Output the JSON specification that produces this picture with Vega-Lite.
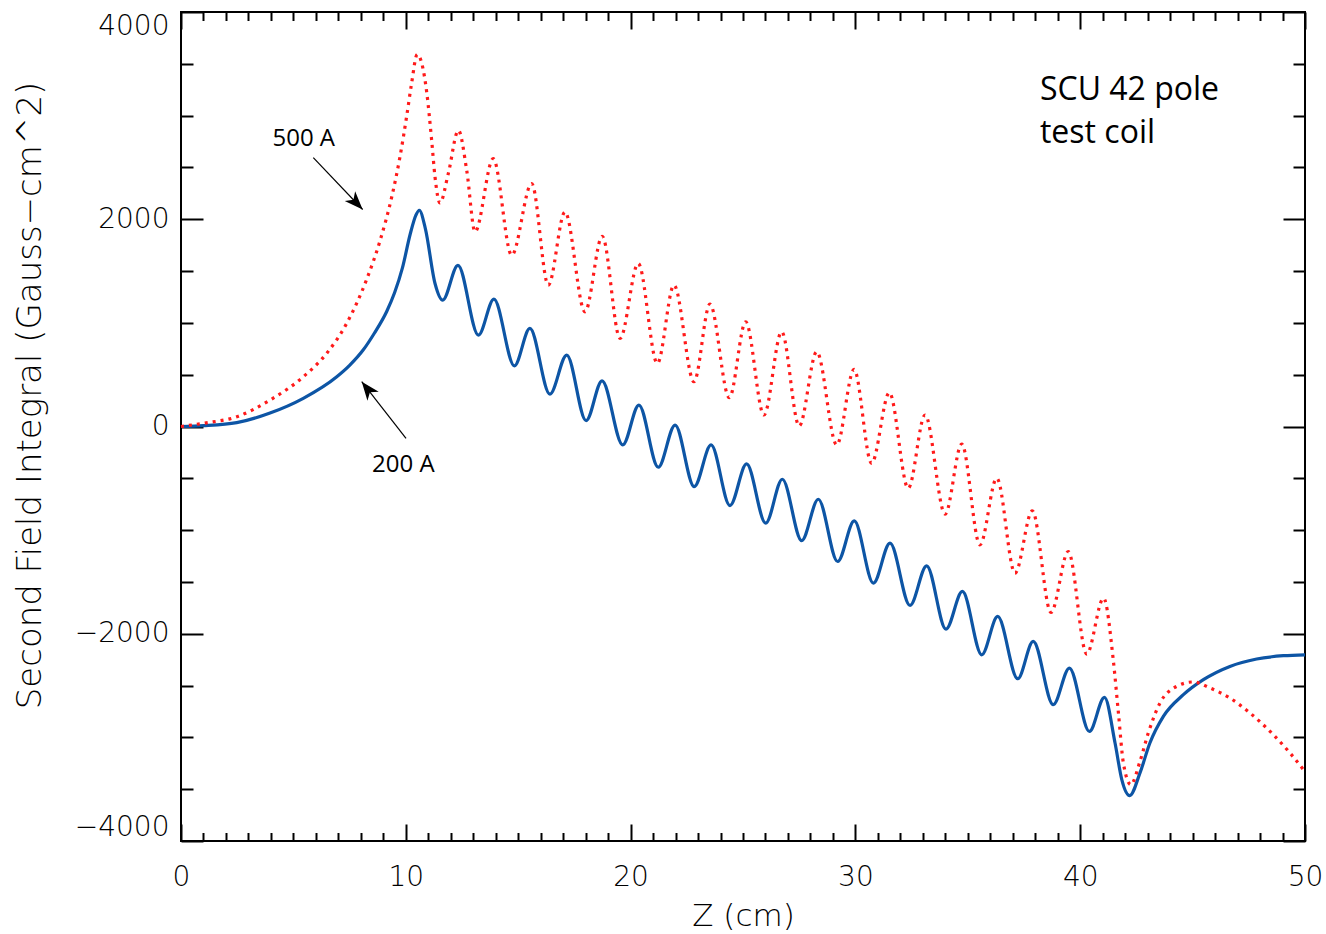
{
  "$schema": "https://vega.github.io/schema/vega-lite/v6.json",
  "width": 1124,
  "height": 829,
  "autosize": {"type": "none"},
  "padding": {"left": 181, "top": 12, "right": 21, "bottom": 93},
  "background": "white",
  "config": {
    "view": {"stroke": "black", "strokeWidth": 2},
    "axis": {
      "grid": false,
      "domain": false,
      "tickColor": "black",
      "tickWidth": 2,
      "labelColor": "black",
      "titleColor": "black",
      "labelFont": "DejaVu Sans",
      "titleFont": "DejaVu Sans",
      "labelFontWeight": 200,
      "titleFontWeight": 200
    }
  },
  "datasets": {
    "b200": [
      {"z": 0, "v": 0}, {"z": 1.0, "v": 8}, {"z": 2.48, "v": 37}, {"z": 3.96, "v": 130},
      {"z": 5.44, "v": 272}, {"z": 6.93, "v": 480}, {"z": 7.5, "v": 590}, {"z": 8.11, "v": 740}, {"z": 8.6, "v": 900},
      {"z": 9.15, "v": 1110}, {"z": 9.5, "v": 1290}, {"z": 9.85, "v": 1530}, {"z": 10.2, "v": 1860},
      {"z": 10.45, "v": 2040}, {"z": 10.6, "v": 2087}, {"z": 10.87, "v": 1910},
      {"z": 11.3, "v": 1380}, {"z": 11.64, "v": 1219}, {"z": 12.32, "v": 1555}, {"z": 13.23, "v": 882}, {"z": 13.92, "v": 1229},
      {"z": 14.83, "v": 586}, {"z": 15.52, "v": 947}, {"z": 16.41, "v": 313}, {"z": 17.16, "v": 689},
      {"z": 18.02, "v": 56}, {"z": 18.73, "v": 441}, {"z": 19.65, "v": -178}, {"z": 20.37, "v": 207},
      {"z": 21.23, "v": -393}, {"z": 21.98, "v": 14}, {"z": 22.83, "v": -580}, {"z": 23.58, "v": -178},
      {"z": 24.42, "v": -763}, {"z": 25.16, "v": -361}, {"z": 26.01, "v": -933}, {"z": 26.75, "v": -509},
      {"z": 27.61, "v": -1101}, {"z": 28.35, "v": -702}, {"z": 29.21, "v": -1303}, {"z": 29.95, "v": -911},
      {"z": 30.8, "v": -1511}, {"z": 31.54, "v": -1126}, {"z": 32.43, "v": -1727}, {"z": 33.17, "v": -1345},
      {"z": 34.03, "v": -1955}, {"z": 34.76, "v": -1592}, {"z": 35.62, "v": -2203}, {"z": 36.33, "v": -1833},
      {"z": 37.22, "v": -2434}, {"z": 37.91, "v": -2074}, {"z": 38.8, "v": -2684}, {"z": 39.52, "v": -2331},
      {"z": 40.41, "v": -2942}, {"z": 41.08, "v": -2614}, {"z": 41.55, "v": -3054}, {"z": 41.85, "v": -3407},
      {"z": 42.2, "v": -3562}, {"z": 42.66, "v": -3343}, {"z": 43.1, "v": -3054}, {"z": 43.7, "v": -2797},
      {"z": 44.59, "v": -2588}, {"z": 45.48, "v": -2443}, {"z": 46.66, "v": -2315}, {"z": 47.85, "v": -2244},
      {"z": 49.04, "v": -2212}, {"z": 50.0, "v": -2203}
    ],
    "r500": [
      {"z": 0, "v": 0}, {"z": 0.99, "v": 31}, {"z": 2.48, "v": 94}, {"z": 3.96, "v": 255},
      {"z": 5.44, "v": 480}, {"z": 6.48, "v": 706}, {"z": 7.37, "v": 995}, {"z": 8.26, "v": 1420},
      {"z": 8.85, "v": 1790}, {"z": 9.38, "v": 2220}, {"z": 9.74, "v": 2601}, {"z": 10.05, "v": 3010}, {"z": 10.25, "v": 3300},
      {"z": 10.51, "v": 3590}, {"z": 10.93, "v": 3227}, {"z": 11.15, "v": 2762}, {"z": 11.3, "v": 2408},
      {"z": 11.52, "v": 2157}, {"z": 11.89, "v": 2441}, {"z": 12.34, "v": 2858}, {"z": 12.71, "v": 2472},
      {"z": 13.08, "v": 1880}, {"z": 13.89, "v": 2585}, {"z": 14.71, "v": 1653},
      {"z": 15.6, "v": 2344}, {"z": 16.34, "v": 1364}, {"z": 17.08, "v": 2070}, {"z": 17.97, "v": 1107},
      {"z": 18.74, "v": 1836}, {"z": 19.53, "v": 850}, {"z": 20.34, "v": 1573}, {"z": 21.19, "v": 609},
      {"z": 21.93, "v": 1364}, {"z": 22.82, "v": 432}, {"z": 23.53, "v": 1181}, {"z": 24.39, "v": 278},
      {"z": 25.12, "v": 1010}, {"z": 25.93, "v": 111}, {"z": 26.72, "v": 914}, {"z": 27.5, "v": 5},
      {"z": 28.28, "v": 721}, {"z": 29.17, "v": -178}, {"z": 29.94, "v": 551}, {"z": 30.72, "v": -355},
      {"z": 31.51, "v": 326}, {"z": 32.35, "v": -596}, {"z": 33.1, "v": 111}, {"z": 33.99, "v": -846},
      {"z": 34.73, "v": -169}, {"z": 35.54, "v": -1142}, {"z": 36.29, "v": -499}, {"z": 37.1, "v": -1415},
      {"z": 37.87, "v": -814}, {"z": 38.7, "v": -1795}, {"z": 39.47, "v": -1207}, {"z": 40.29, "v": -2196},
      {"z": 41.04, "v": -1656}, {"z": 41.47, "v": -2251}, {"z": 41.7, "v": -2764}, {"z": 41.92, "v": -3246},
      {"z": 42.25, "v": -3456}, {"z": 42.66, "v": -3231}, {"z": 43.03, "v": -2957}, {"z": 43.55, "v": -2668},
      {"z": 44.29, "v": -2508}, {"z": 45.03, "v": -2465}, {"z": 45.77, "v": -2523}, {"z": 46.66, "v": -2620},
      {"z": 47.55, "v": -2764}, {"z": 48.59, "v": -2974}, {"z": 49.33, "v": -3150}, {"z": 50.0, "v": -3330}
    ],
    "arrows": [
      {"x": 5.885, "y": 2595, "x2": 8.08, "y2": 2094},
      {"x": 10.01, "y": -114, "x2": 8.04, "y2": 432}
    ],
    "big": [
      {"x": 38.21, "y": 3147, "label": "SCU 42 pole"},
      {"x": 38.21, "y": 2733, "label": "test coil"}
    ],
    "small": [
      {"x": 5.46, "y": 2707, "label": "500 A"},
      {"x": 9.89, "y": -436, "label": "200 A"}
    ]
  },
  "resolve": {"axis": {"x": "independent", "y": "independent"}},
  "layer": [
    {
      "data": {"name": "b200"},
      "mark": {"type": "line", "color": "#0d55a5", "strokeWidth": 3.2, "interpolate": "monotone"},
      "encoding": {
        "x": {
          "field": "z", "type": "quantitative",
          "scale": {"domain": [0, 50], "nice": false, "zero": false},
          "axis": {
            "orient": "bottom",
            "values": [0,1,2,3,4,5,6,7,8,9,10,11,12,13,14,15,16,17,18,19,20,21,22,23,24,25,26,27,28,29,30,31,32,33,34,35,36,37,38,39,40,41,42,43,44,45,46,47,48,49,50],
            "tickSize": {"condition": {"test": "datum.value % 10 === 0", "value": -17}, "value": -8.5},
            "labelExpr": "datum.value % 10 === 0 ? datum.label : ''",
            "labelOverlap": false,
            "labelFlush": false,
            "labelBound": false,
            "labelFontSize": 28,
            "labelPadding": 39,
            "title": "Z (cm)",
            "titleFontSize": 31,
            "titleBaseline": "alphabetic",
            "titleY": 84
          }
        },
        "y": {
          "field": "v", "type": "quantitative",
          "scale": {"domain": [-4000, 4000], "nice": false, "zero": false},
          "axis": {
            "orient": "left",
            "values": [-4000,-3500,-3000,-2500,-2000,-1500,-1000,-500,0,500,1000,1500,2000,2500,3000,3500,4000],
            "format": "d",
            "tickSize": {"condition": {"test": "datum.value % 2000 === 0", "value": -22}, "value": -12},
            "labelExpr": "datum.value % 2000 === 0 ? datum.label : ''",
            "labelOverlap": false,
            "labelFlush": true,
            "labelBound": false,
            "labelFontSize": 28,
            "labelPadding": 34,
            "title": "Second Field Integral (Gauss\u2212cm^2)",
            "titleFontSize": 34,
            "titleAngle": 270,
            "titleAlign": "center",
            "titleBaseline": "alphabetic",
            "titleX": -141,
            "titleY": 383
          }
        }
      }
    },
    {
      "data": {"name": "r500"},
      "mark": {"type": "line", "color": "#ff1a1a", "strokeWidth": 3.2, "strokeDash": [3, 5], "interpolate": "monotone"},
      "encoding": {
        "x": {
          "field": "z", "type": "quantitative",
          "axis": {
            "orient": "top",
            "values": [0,1,2,3,4,5,6,7,8,9,10,11,12,13,14,15,16,17,18,19,20,21,22,23,24,25,26,27,28,29,30,31,32,33,34,35,36,37,38,39,40,41,42,43,44,45,46,47,48,49,50],
            "tickSize": {"condition": {"test": "datum.value % 10 === 0", "value": -17}, "value": -8.5},
            "labels": false,
            "title": null
          }
        },
        "y": {
          "field": "v", "type": "quantitative",
          "axis": {
            "orient": "right",
            "values": [-4000,-3500,-3000,-2500,-2000,-1500,-1000,-500,0,500,1000,1500,2000,2500,3000,3500,4000],
            "tickSize": {"condition": {"test": "datum.value % 2000 === 0", "value": -22}, "value": -12},
            "labels": false,
            "title": null
          }
        }
      }
    },
    {
      "data": {"name": "arrows"},
      "mark": {"type": "rule", "color": "black", "strokeWidth": 1.2},
      "encoding": {
        "x": {"field": "x", "type": "quantitative", "axis": null},
        "y": {"field": "y", "type": "quantitative", "axis": null},
        "x2": {"field": "x2"},
        "y2": {"field": "y2"}
      }
    },
    {
      "data": {"values": [{"x": 8.08, "y": 2094}]},
      "mark": {"type": "point", "shape": "M0,0L0.7,1.8L0,1.3L-0.7,1.8Z", "filled": true, "color": "black", "opacity": 1, "size": 420, "angle": 136.5},
      "encoding": {
        "x": {"field": "x", "type": "quantitative", "axis": null},
        "y": {"field": "y", "type": "quantitative", "axis": null}
      }
    },
    {
      "data": {"values": [{"x": 8.04, "y": 432}]},
      "mark": {"type": "point", "shape": "M0,0L0.7,1.8L0,1.3L-0.7,1.8Z", "filled": true, "color": "black", "opacity": 1, "size": 420, "angle": 322},
      "encoding": {
        "x": {"field": "x", "type": "quantitative", "axis": null},
        "y": {"field": "y", "type": "quantitative", "axis": null}
      }
    },
    {
      "data": {"name": "big"},
      "mark": {"type": "text", "align": "left", "baseline": "alphabetic", "font": "Open Sans", "fontSize": 32, "color": "black"},
      "encoding": {
        "x": {"field": "x", "type": "quantitative", "axis": null},
        "y": {"field": "y", "type": "quantitative", "axis": null},
        "text": {"field": "label"}
      }
    },
    {
      "data": {"name": "small"},
      "mark": {"type": "text", "align": "center", "baseline": "alphabetic", "font": "Open Sans", "fontSize": 24, "color": "black"},
      "encoding": {
        "x": {"field": "x", "type": "quantitative", "axis": null},
        "y": {"field": "y", "type": "quantitative", "axis": null},
        "text": {"field": "label"}
      }
    }
  ]
}
